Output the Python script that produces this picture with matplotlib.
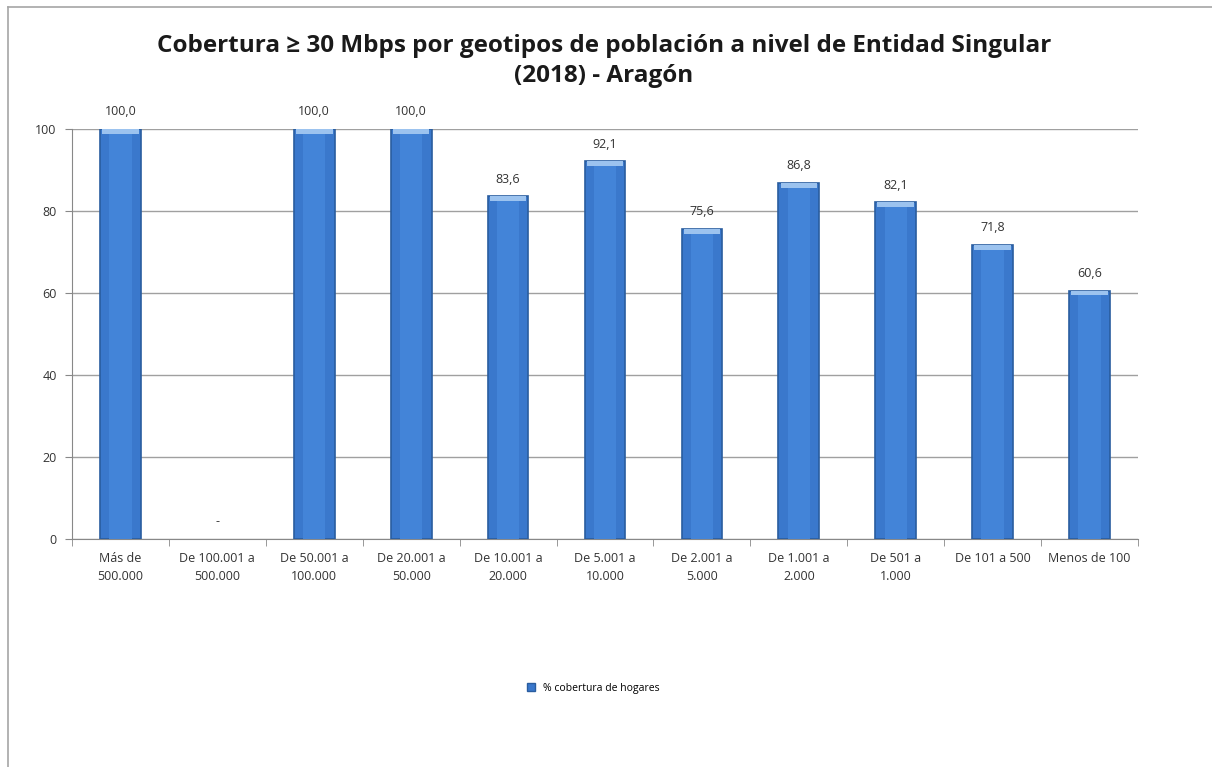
import matplotlib
matplotlib.use("Agg")
import matplotlib.pyplot as plt
import numpy as np
from matplotlib.lines import Line2D

categories = ["Más de\n500.000", "De 100.001 a\n500.000", "De 50.001 a\n100.000",
              "De 20.001 a\n50.000", "De 10.001 a\n20.000", "De 5.001 a\n10.000",
              "De 2.001 a\n5.000", "De 1.001 a\n2.000", "De 501 a\n1.000",
              "De 101 a 500", "Menos de 100"]
values = [100.0, None, 100.0, 100.0, 83.6, 92.1, 75.6, 86.8, 82.1, 71.8, 60.6]
yticks = [0, 20, 40, 60, 80, 100]
title = "Cobertura ≥ 30 Mbps por geotipos de población a nivel de Entidad Singular\n(2018) - Aragón"
legend_label = "% cobertura de hogares"

plt.rcParams['font.family'] = ['Open Sans', 'DejaVu Sans']

W, H = 1212, 767
fig = plt.figure(figsize=(W / 100, H / 100), dpi=100)
fig.patch.set_facecolor("white")

# outer chart border (left and top)
fig.add_artist(Line2D([8 / W, 8 / W], [0, 1 - 7 / H], color="#a6a6a6", lw=1.2, transform=fig.transFigure))
fig.add_artist(Line2D([8 / W, 1], [1 - 7 / H, 1 - 7 / H], color="#a6a6a6", lw=1.2, transform=fig.transFigure))

left, right, top, bottom = 72, 1138, 129, 539
ax = fig.add_axes([left / W, 1 - bottom / H, (right - left) / W, (bottom - top) / H])

x = np.arange(len(categories))
present = np.array([v is not None for v in values])
xp = x[present]
hp = np.array([v for v in values if v is not None])
bw = 0.42
ax.bar(xp, hp, width=bw, color="#3a78cc", edgecolor="#2a5d9f", linewidth=1.2, zorder=3)
# inner lighter stripe for a slight shaded look
ax.bar(xp, hp, width=bw * 0.55, color="#4384d8", linewidth=0, zorder=3)
# light top cap
cap = np.full_like(hp, 1.2)
ax.bar(xp, cap, bottom=hp - cap, width=bw * 0.9, color="#9cc3ef", linewidth=0, zorder=4)

for xi, v in zip(x, values):
    lab = "-" if v is None else f"{v:.1f}".replace(".", ",")
    yy = 0 if v is None else v
    ax.text(xi, yy + 2.6, lab, ha="center", va="bottom", fontsize=9, color="#333333")

ax.set_xlim(-0.5, len(categories) - 0.5)
ax.set_ylim(0, 100)
ax.set_yticks(yticks)
ax.set_yticklabels([str(t) for t in yticks], fontsize=9, color="#333333")
ax.set_xticks(x)
ax.set_xticklabels(categories, fontsize=9, color="#333333", linespacing=1.55)
ax.set_xticks(np.arange(len(categories) + 1) - 0.5, minor=True)
ax.tick_params(axis="x", which="major", length=0, pad=9)
ax.tick_params(axis="x", which="minor", length=5, color="#888888")
ax.tick_params(axis="y", length=5, color="#888888", pad=6)
ax.yaxis.grid(True, color="#a0a0a0", linewidth=1.0, zorder=0)
ax.set_axisbelow(True)
for s in ["top", "right"]:
    ax.spines[s].set_visible(False)
ax.spines["left"].set_color("#888888")
ax.spines["bottom"].set_color("#888888")

fig.text(604 / W, 1 - 61 / H, title, ha="center", va="center", fontsize=17.5,
         fontweight="bold", color="#1a1a1a", linespacing=1.3)

handle = Line2D([], [], marker="s", linestyle="none", markersize=6,
                markerfacecolor="#3a78cc", markeredgecolor="#2a5d9f")
fig.legend([handle], [legend_label], loc="center", bbox_to_anchor=(590 / W, 1 - 688 / H),
           frameon=False, fontsize=7.5, handletextpad=0.1, borderaxespad=0)

fig.savefig("out.png", dpi=100, facecolor="white")
